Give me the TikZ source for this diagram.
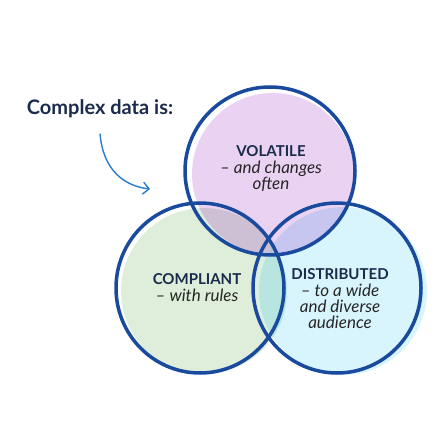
\documentclass[tikz,border=0pt]{standalone}
\usepackage{fontspec}
\setmainfont{Lato}
\usepackage{xcolor}
\usetikzlibrary{arrows.meta, positioning}

\definecolor{ringblue}{HTML}{1A4A9E}
\definecolor{navy}{HTML}{1B2B4B}
\definecolor{arrowblue}{HTML}{2A7BD3}
\definecolor{lilac}{HTML}{E9D2F2}
\definecolor{mint}{HTML}{DEEEDB}
\definecolor{sky}{HTML}{D8F4FD}
\definecolor{lilacmint}{HTML}{CEC0D4}
\definecolor{lilacsky}{HTML}{C7C6F1}
\definecolor{mintsky}{HTML}{B8E5DF}
\definecolor{allthree}{HTML}{B9C3D8}

\tikzset{
  ring/.style={draw=ringblue, line width=3.5pt},
  heading/.style={font=\bfseries\fontsize{15}{17}\selectfont, text=navy},
  scribble/.style={font=\itshape\fontsize{17}{16}\selectfont, text=black!85, align=center}
}

\begin{document}
\begin{tikzpicture}[x=1pt, y=-1pt]
  \useasboundingbox (0,0) rectangle (438,438);
  % fills
  \foreach \cx/\cy/\r/\col in {273/174/81/lilac, 204/291/83/mint, 343/291/84/sky}
    \fill[\col] (\cx,\cy) circle (\r);
  % overlaps
  \begin{scope}
    \clip (273,174) circle (81);
    \fill[lilacmint] (204,291) circle (83);
    \fill[lilacsky] (343,291) circle (84);
  \end{scope}
  \begin{scope}
    \clip (204,291) circle (83);
    \fill[mintsky] (343,291) circle (84);
    \clip (273,174) circle (81);
    \fill[allthree] (343,291) circle (84);
  \end{scope}
  % outlines
  \foreach \cx/\cy/\rx/\ry in {270/171/85/84, 200/288/84/85, 337/288/84/85}
    \draw[ring] (\cx,\cy) ellipse [x radius=\rx, y radius=\ry];
  % title and arrow
  \node[font=\bfseries\fontsize{20}{22}\selectfont, text=navy] (title) at (100,109) {Complex data is:};
  \coordinate (arrowtip) at (150,189);
  \draw[arrowblue, line width=1.4pt, -{Straight Barb[length=6pt, width=12pt]}]
    ([yshift=-12pt]title.south) .. controls (103,170) and (124,186) .. (arrowtip);
  % labels
  \node[heading] (volatile) at (271,151) {VOLATILE};
  \node[scribble, below=-3pt of volatile] (volatilenote) {– and changes\\often};
  \node[heading] (compliant) at (197,279) {COMPLIANT};
  \node[scribble, below=-3pt of compliant] (compliantnote) {– with rules};
  \node[heading] (distributed) at (340,274) {DISTRIBUTED};
  \node[scribble, below=-3pt of distributed] (distributednote) {– to a wide\\and diverse\\audience};
\end{tikzpicture}
\end{document}
